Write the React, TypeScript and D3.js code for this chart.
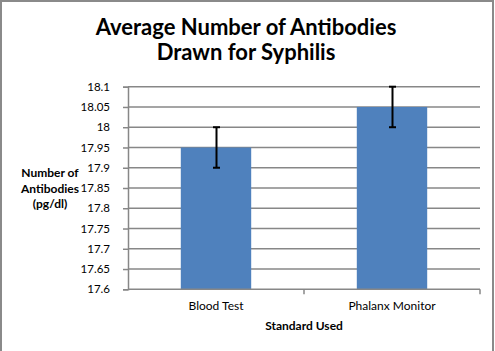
import React, { useEffect, useRef } from "react";
import * as d3 from "d3";

const categories = ["Blood Test", "Phalanx Monitor"];
const values = [17.95, 18.05];
const errors = [0.05, 0.05];
const yTicks = [17.6, 17.65, 17.7, 17.75, 17.8, 17.85, 17.9, 17.95, 18, 18.05, 18.1];
const titleLines = ["Average Number of Antibodies", "Drawn for Syphilis"];
const yLabelLines = ["Number of", "Antibodies", "(pg/dl)"];
const xTitle = "Standard Used";

const FONT = "Lato, 'Open Sans', sans-serif";

const App = () => {
  const svgRef = useRef<SVGSVGElement>(null);

  useEffect(() => {
    const svg = d3.select(svgRef.current);
    svg.selectAll("*").remove();

    const plot = { left: 128, right: 480, top: 86.7, bottom: 289.3 };

    const x = d3.scaleBand().domain(categories).range([plot.left, plot.right]).paddingInner(0).paddingOuter(0);
    const y = d3.scaleLinear().domain([17.6, 18.1]).range([plot.bottom, plot.top]);
    const barW = x.bandwidth() * 0.4;

    // outer frame
    svg.append("rect")
      .attr("x", 1).attr("y", 1).attr("width", 492).attr("height", 360)
      .attr("fill", "white").attr("stroke", "#8a8a8a").attr("stroke-width", 2);

    // title
    svg.append("g")
      .selectAll("text")
      .data(titleLines)
      .enter()
      .append("text")
      .attr("x", 246)
      .attr("y", (d, i) => 35 + i * 25)
      .attr("text-anchor", "middle")
      .attr("font-family", FONT)
      .attr("font-weight", "bold")
      .attr("font-size", 22)
      .attr("fill", "#000")
      .text((d) => d);

    // gridlines
    svg.append("g")
      .selectAll("line")
      .data(yTicks.slice(1))
      .enter()
      .append("line")
      .attr("x1", plot.left).attr("x2", plot.right)
      .attr("y1", (d) => y(d)).attr("y2", (d) => y(d))
      .attr("stroke", "#878787").attr("stroke-width", 1.5);

    // y axis
    const yAxis = svg.append("g")
      .attr("transform", `translate(${plot.left},0)`)
      .call(d3.axisLeft(y).tickValues(yTicks).tickSize(5).tickPadding(13).tickFormat((d) => String(d)));
    yAxis.select(".domain").attr("stroke", "#878787").attr("stroke-width", 1.5);
    yAxis.selectAll(".tick line").attr("stroke", "#878787").attr("stroke-width", 1.5);
    yAxis.selectAll(".tick text")
      .attr("font-family", FONT).attr("font-size", 11.5).attr("fill", "#000");

    // bars
    svg.append("g")
      .selectAll("rect")
      .data(categories)
      .enter()
      .append("rect")
      .attr("x", (d) => x(d)! + (x.bandwidth() - barW) / 2)
      .attr("y", (d, i) => y(values[i]))
      .attr("width", barW)
      .attr("height", (d, i) => plot.bottom - y(values[i]))
      .attr("fill", "#4F81BD");

    // x axis
    const xAxis = svg.append("g")
      .attr("transform", `translate(0,${plot.bottom})`)
      .call(d3.axisBottom(x).tickSize(0).tickPadding(12));
    xAxis.select(".domain").remove();
    xAxis.selectAll(".tick text")
      .attr("font-family", FONT).attr("font-size", 12).attr("fill", "#000");
    svg.append("line")
      .attr("x1", plot.left).attr("x2", plot.right)
      .attr("y1", plot.bottom).attr("y2", plot.bottom)
      .attr("stroke", "#878787").attr("stroke-width", 1.5);
    svg.append("g")
      .selectAll("line")
      .data(categories)
      .enter()
      .append("line")
      .attr("x1", (d) => x(d)! + x.bandwidth()).attr("x2", (d) => x(d)! + x.bandwidth())
      .attr("y1", plot.bottom).attr("y2", plot.bottom + 5)
      .attr("stroke", "#878787").attr("stroke-width", 1.5);

    // error bars
    const eb = svg.append("g").attr("stroke", "#000").attr("stroke-width", 2);
    categories.forEach((c, i) => {
      const cx = x(c)! + x.bandwidth() / 2 + 0.5;
      const hi = y(values[i] + errors[i]);
      const lo = y(values[i] - errors[i]);
      eb.append("line").attr("x1", cx).attr("x2", cx).attr("y1", hi).attr("y2", lo);
      eb.append("line").attr("x1", cx - 3.5).attr("x2", cx + 3.5).attr("y1", hi).attr("y2", hi);
      eb.append("line").attr("x1", cx - 3.5).attr("x2", cx + 3.5).attr("y1", lo).attr("y2", lo);
    });

    // axis titles
    svg.append("g")
      .selectAll("text")
      .data(yLabelLines)
      .enter()
      .append("text")
      .attr("x", 50)
      .attr("y", (d, i) => 177 + i * 15.5)
      .attr("text-anchor", "middle")
      .attr("font-family", FONT)
      .attr("font-weight", "bold")
      .attr("font-size", 12)
      .attr("fill", "#000")
      .text((d) => d);

    svg.append("text")
      .attr("x", 304)
      .attr("y", 330)
      .attr("text-anchor", "middle")
      .attr("font-family", FONT)
      .attr("font-weight", "bold")
      .attr("font-size", 12)
      .attr("fill", "#000")
      .text(xTitle);
  }, []);

  return (
    <svg
      ref={svgRef}
      width={495}
      height={351}
      style={{ position: "absolute", left: 0, top: 0, background: "white" }}
    ></svg>
  );
};

export default App;
